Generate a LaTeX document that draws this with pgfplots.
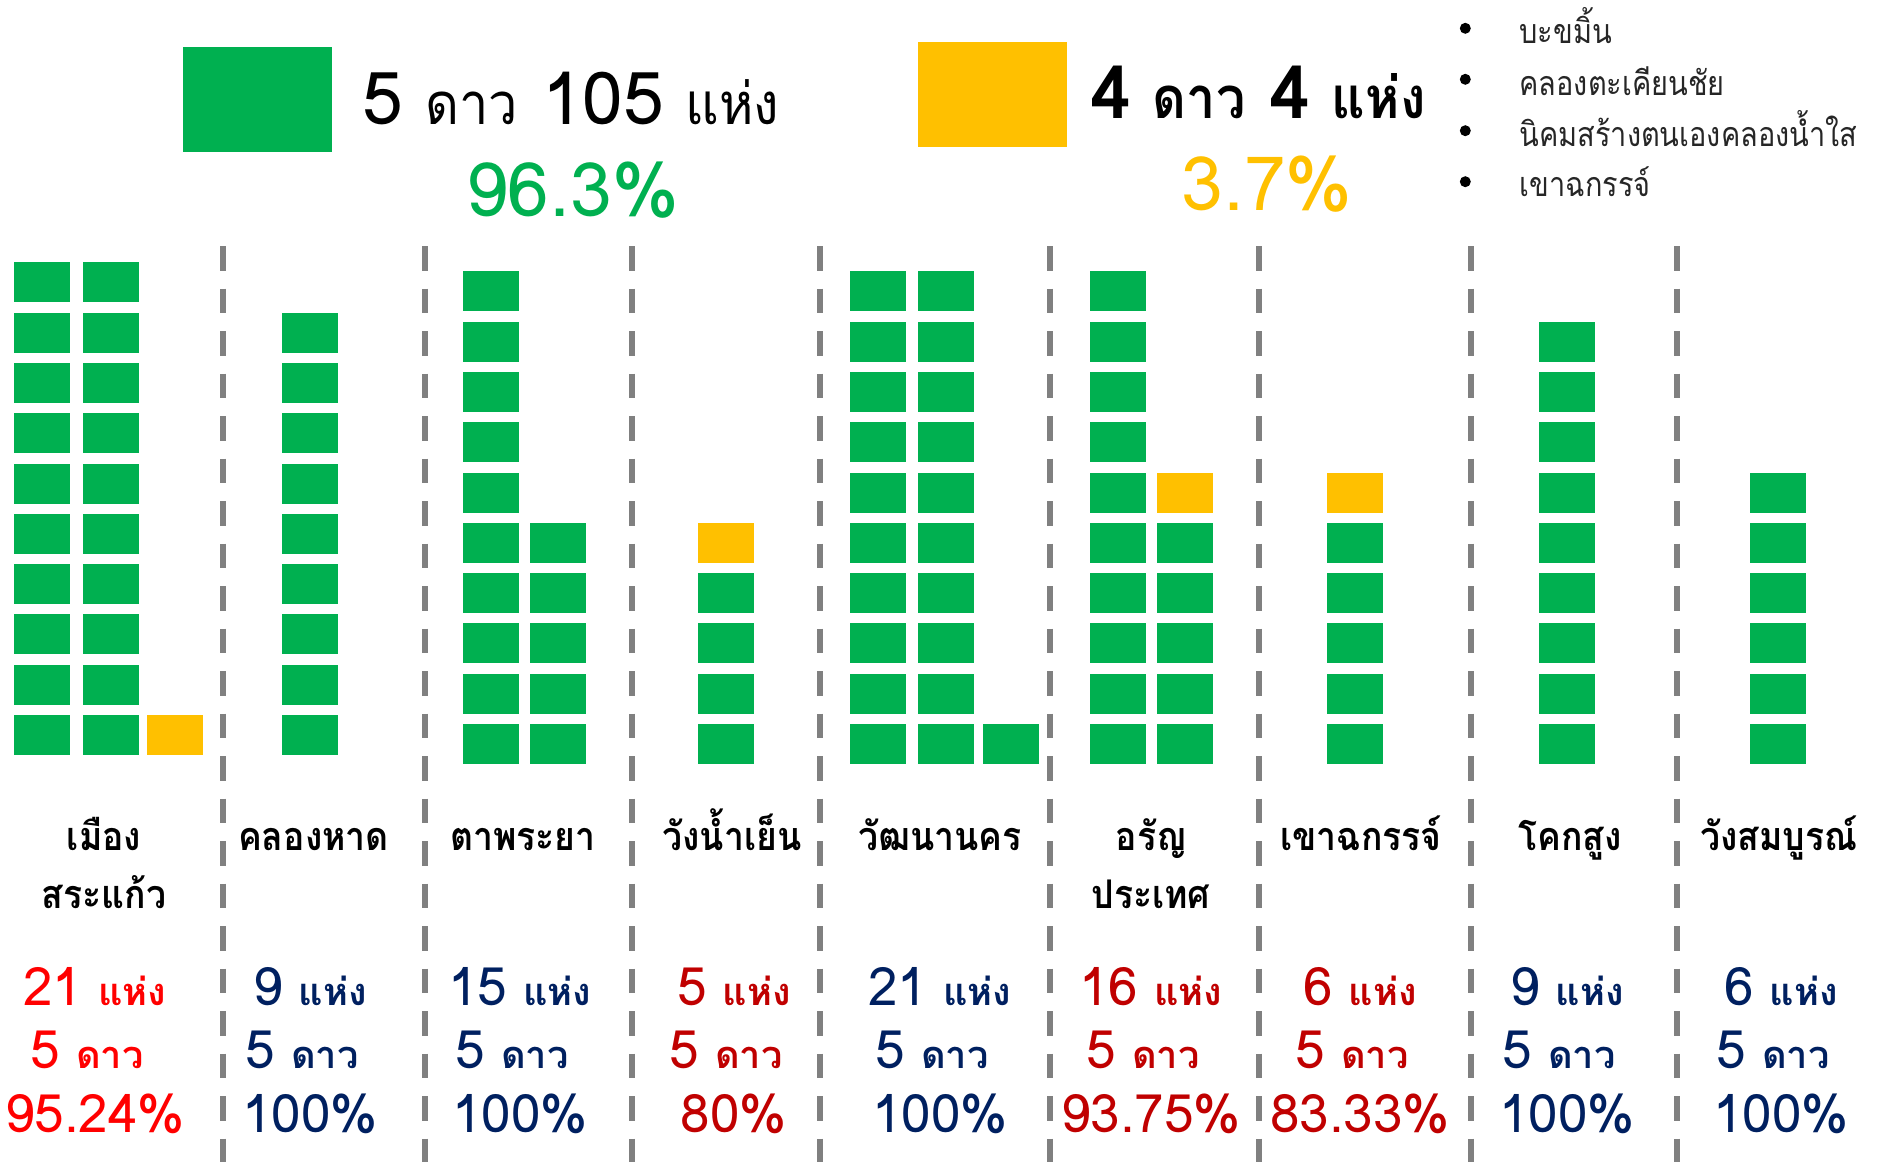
\documentclass[border=0pt]{standalone}
\usepackage{pgfplots}
\pgfplotsset{compat=1.18}
\usepackage{fontspec}
\setmainfont[Script=Thai]{Loma}
\newfontfamily\thaic[Script=Thai, FakeStretch=0.9]{Loma}
\newfontfamily\thaiclist[Script=Thai, FakeStretch=0.85]{Loma}

\definecolor{star5}{HTML}{00B050}
\definecolor{star4}{HTML}{FFC000}
\definecolor{red1}{HTML}{FF0000}
\definecolor{red2}{HTML}{C00000}
\definecolor{navy}{HTML}{002060}
\definecolor{sepgray}{HTML}{808080}

% one tile = one site
\pgfdeclareplotmark{tile}{%
  \pgfpathrectangle{\pgfqpoint{-28pt}{-20pt}}{\pgfqpoint{56pt}{40pt}}%
  \pgfusepathqfill}

\newcommand\tnum{\fontsize{73}{76}\selectfont}
\newcommand\tthai{\thaic\fontsize{58}{60}\selectfont}
\newcommand\pctfont{\fontsize{75}{78}\selectfont}
\newcommand\lblfont{\thaic\fontsize{39.5}{42}\selectfont\bfseries}
\newcommand\snum{\fontsize{53}{56}\selectfont}
\newcommand\sthai{\fontsize{38}{40}\selectfont\bfseries}
\newcommand\listfont{\thaiclist\fontsize{34}{36}\selectfont}

\begin{document}
\begin{tikzpicture}
\begin{axis}[
    width=1877pt, height=1162pt,
    scale only axis,
    xmin=0, xmax=1877, ymin=0, ymax=1162,
    y dir=reverse,
    hide axis,
    clip=false,
  ]
% page frame
\addplot[draw=none, forget plot] coordinates {(0,0) (1877,1162)};

% district separators
\pgfplotsinvokeforeach{223,425,631.5,820.4,1050.2,1258.5,1471.4,1676.7}{
  \addplot[sepgray, line width=6pt, dash pattern=on 24.5pt off 18pt]
    coordinates {(#1,246) (#1,1162)};
}

% legend tiles
\addplot[only marks, mark=tile, star5, mark options={xscale=2.66, yscale=2.62}]
  coordinates {(257.5,99.5)};
\addplot[only marks, mark=tile, star4, mark options={xscale=2.66, yscale=2.62}]
  coordinates {(992.5,94.3)};

% 5-star sites
\addplot[only marks, mark=tile, star5] coordinates {
 (42,282.3) (42,332.6) (42,382.9) (42,433.2) (42,483.5) (42,533.8) (42,584.1) (42,634.4) (42,684.7) (42,735)
 (110.5,282.3) (110.5,332.6) (110.5,382.9) (110.5,433.2) (110.5,483.5) (110.5,533.8) (110.5,584.1) (110.5,634.4) (110.5,684.7) (110.5,735)
 (310,332.6) (310,382.9) (310,433.2) (310,483.5) (310,533.8) (310,584.1) (310,634.4) (310,684.7) (310,735)
 (491,291.3) (491,341.6) (491,391.9) (491,442.2) (491,492.5) (491,542.8) (491,593.1) (491,643.4) (491,693.7) (491,744)
 (558.4,542.8) (558.4,593.1) (558.4,643.4) (558.4,693.7) (558.4,744)
 (726,593.1) (726,643.4) (726,693.7) (726,744)
 (878,291.3) (878,341.6) (878,391.9) (878,442.2) (878,492.5) (878,542.8) (878,593.1) (878,643.4) (878,693.7) (878,744)
 (946,291.3) (946,341.6) (946,391.9) (946,442.2) (946,492.5) (946,542.8) (946,593.1) (946,643.4) (946,693.7) (946,744)
 (1011,744)
 (1118,291.3) (1118,341.6) (1118,391.9) (1118,442.2) (1118,492.5) (1118,542.8) (1118,593.1) (1118,643.4) (1118,693.7) (1118,744)
 (1185,542.8) (1185,593.1) (1185,643.4) (1185,693.7) (1185,744)
 (1354.7,542.8) (1354.7,593.1) (1354.7,643.4) (1354.7,693.7) (1354.7,744)
 (1567,341.6) (1567,391.9) (1567,442.2) (1567,492.5) (1567,542.8) (1567,593.1) (1567,643.4) (1567,693.7) (1567,744)
 (1778,492.5) (1778,542.8) (1778,593.1) (1778,643.4) (1778,693.7) (1778,744)
};
% 4-star sites
\addplot[only marks, mark=tile, star4] coordinates {
 (174.5,735) (726,542.8) (1185,492.5) (1354.7,492.5)
};

% headline
\node[anchor=base west, inner sep=0pt] at (axis cs:362.7,124.3)
  {{\tnum 5}\hspace{22pt}{\tthai ดาว}\hspace{24pt}{\tnum 105}\hspace{22pt}{\tthai แห่ง}};
\node[anchor=base, inner sep=0pt, text=star5] at (axis cs:572.5,216.7) {\pctfont 96.3\%};
\node[anchor=base west, inner sep=0pt] at (axis cs:1090,118.3)
  {\bfseries{\tnum 4}\hspace{22pt}{\tthai\bfseries ดาว}\hspace{24pt}{\tnum 4}\hspace{22pt}{\tthai\bfseries แห่ง}};
\node[anchor=base, inner sep=0pt, text=star4] at (axis cs:1267,210) {\pctfont 3.7\%};

% 4-star site list
\pgfplotsinvokeforeach{28.3,79.3,130.7,181.7}{
  \node[circle, fill=black, inner sep=0pt, minimum size=11pt] at (axis cs:1465.3,#1) {};
}
\node[anchor=base west, inner sep=0pt, text=black!85] at (axis cs:1519.3,43.3) {\listfont บะขมิ้น};
\node[anchor=base west, inner sep=0pt, text=black!85] at (axis cs:1519.3,95) {\listfont คลองตะเคียนชัย};
\node[anchor=base west, inner sep=0pt, text=black!85] at (axis cs:1519.3,146) {\listfont นิคมสร้างตนเองคลองน้ำใส};
\node[anchor=base west, inner sep=0pt, text=black!85] at (axis cs:1519.3,196.7) {\listfont เขาฉกรรจ์};

% district names
\node[anchor=base, inner sep=0pt] at (axis cs:104,850.7) {\lblfont เมือง};
\node[anchor=base, inner sep=0pt] at (axis cs:104,908.3) {\lblfont สระแก้ว};
\node[anchor=base, inner sep=0pt] at (axis cs:313.5,850.7) {\lblfont คลองหาด};
\node[anchor=base, inner sep=0pt] at (axis cs:523,850.7) {\lblfont ตาพระยา};
\node[anchor=base, inner sep=0pt] at (axis cs:732,850.7) {\lblfont วังน้ำเย็น};
\node[anchor=base, inner sep=0pt] at (axis cs:940,850.7) {\lblfont วัฒนานคร};
\node[anchor=base, inner sep=0pt] at (axis cs:1151,850.7) {\lblfont อรัญ};
\node[anchor=base, inner sep=0pt] at (axis cs:1151,908.3) {\lblfont ประเทศ};
\node[anchor=base, inner sep=0pt] at (axis cs:1361,850.7) {\lblfont เขาฉกรรจ์};
\node[anchor=base, inner sep=0pt] at (axis cs:1570,850.7) {\lblfont โคกสูง};
\node[anchor=base, inner sep=0pt] at (axis cs:1778.7,850.7) {\lblfont วังสมบูรณ์};

% per-district figures: sites, stars, share of 5-star
\newcommand\stat[4]{%
  \node[anchor=base, inner sep=0pt, text=#1] at (axis cs:#2,1005)
    {{\snum #3}\hspace{16pt}{\sthai แห่ง}};
  \node[anchor=base, inner sep=0pt, text=#1] at (axis cs:#2-8,1068.3)
    {{\snum 5}\hspace{16pt}{\sthai ดาว}};
  \node[anchor=base, inner sep=0pt, text=#1] at (axis cs:#2,1132.7) {\snum #4\%};
}
\stat{red1}{95}{21}{95.24}
\stat{navy}{310}{9}{100}
\stat{navy}{520}{15}{100}
\stat{red2}{734}{5}{80}
\stat{navy}{940}{21}{100}
\stat{red2}{1151}{16}{93.75}
\stat{red2}{1360}{6}{83.33}
\stat{navy}{1567}{9}{100}
\stat{navy}{1781}{6}{100}
\end{axis}
\pgfresetboundingbox
\path[use as bounding box] (current axis.south west) rectangle (current axis.north east);
\end{tikzpicture}
\end{document}
